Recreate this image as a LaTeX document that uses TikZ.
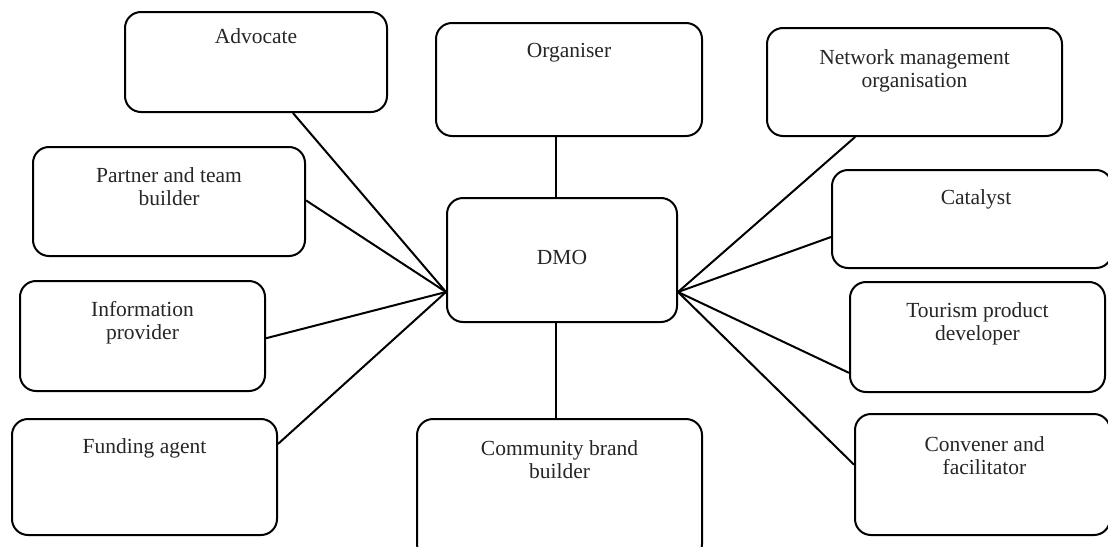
\documentclass[tikz,border=0pt]{standalone}
\usepackage{fontspec}
\setmainfont{Liberation Serif}
\usetikzlibrary{calc}
\tikzset{
  rbox/.style={draw=black, line width=2pt, rounded corners=16pt, inner sep=0pt, fill=white},
  lbl/.style={anchor=north, inner sep=0pt, align=center, font=\fontsize{21.5}{23.5}\selectfont, text=black!85},
  conn/.style={draw=black, line width=2pt}
}
\begin{document}
\begin{tikzpicture}[x=1pt,y=-1pt]
\clip (0,0) rectangle (1108,546);
\fill[white] (0,0) rectangle (1108,546);
% boxes
\node[rbox, minimum width=262pt, minimum height=100pt] (adv) at (256,62) {};
\node[rbox, minimum width=272pt, minimum height=109pt] (ptb) at (169,201.5) {};
\node[rbox, minimum width=245pt, minimum height=110pt] (inf) at (142.5,336) {};
\node[rbox, minimum width=265pt, minimum height=116pt] (fund) at (144.5,477) {};
\node[rbox, minimum width=266pt, minimum height=113pt] (org) at (569,79.5) {};
\node[rbox, minimum width=230pt, minimum height=124pt] (dmo) at (562,260) {};
\node[rbox, minimum width=285pt, minimum height=141pt] (com) at (559.5,489.5) {};
\node[rbox, minimum width=295pt, minimum height=108pt] (net) at (914.5,82) {};
\node[rbox, minimum width=280pt, minimum height=98pt] (cat) at (972,219) {};
\node[rbox, minimum width=255pt, minimum height=110pt] (tour) at (977.5,337) {};
\node[rbox, minimum width=255pt, minimum height=121pt] (conv) at (982.5,474.5) {};
% labels
\node[lbl] (tadv) at ([yshift=-17pt]adv.north) {Advocate};
\node[lbl] (tptb) at ([yshift=-21pt]ptb.north) {Partner and team\\builder};
\node[lbl] (tinf) at ([yshift=-21pt]inf.north) {Information\\provider};
\node[lbl] (tfund) at ([yshift=-20pt]fund.north) {Funding agent};
\node[lbl] (torg) at ([yshift=-21pt]org.north) {Organiser};
\node[lbl] (tdmo) at ([yshift=-53pt]dmo.north) {DMO};
\node[lbl] (tcom) at ([yshift=-22pt]com.north) {Community brand\\builder};
\node[lbl] (tnet) at ([yshift=-22pt]net.north) {Network management\\organisation};
\node[lbl] (tcat) at ([yshift=-20pt,xshift=4pt]cat.north) {Catalyst};
\node[lbl] (ttour) at ([yshift=-21pt]tour.north) {Tourism product\\developer};
\node[lbl] (tconv) at ([yshift=-23pt,xshift=2pt]conv.north) {Convener and\\facilitator};
% hub points
\coordinate (hl) at ([yshift=-32pt]dmo.west);
\coordinate (hr) at ([yshift=-32pt]dmo.east);
\coordinate (vt) at ($(org.south west)!0.45!(org.south east)$);
% connectors
\draw[conn] (vt) -- (vt |- dmo.north);
\draw[conn] (vt |- dmo.south) -- (vt |- com.north);
\draw[conn] ($(adv.south west)!0.64!(adv.south east)$) -- (hl);
\draw[conn] ($(ptb.north east)!0.49!(ptb.south east)$) -- (hl);
\draw[conn] ($(inf.north east)!0.52!(inf.south east)$) -- (hl);
\draw[conn] ($(fund.north east)!0.22!(fund.south east)$) -- (hl);
\draw[conn] ($(net.south west)!0.30!(net.south east)$) -- (hr);
\draw[conn] ($(cat.north west)!0.68!(cat.south west)$) -- (hr);
\draw[conn] ($(tour.north west)!0.82!(tour.south west)$) -- (hr);
\draw[conn] ($(conv.north west)!0.42!(conv.south west)$) -- (hr);
\end{tikzpicture}
\end{document}
